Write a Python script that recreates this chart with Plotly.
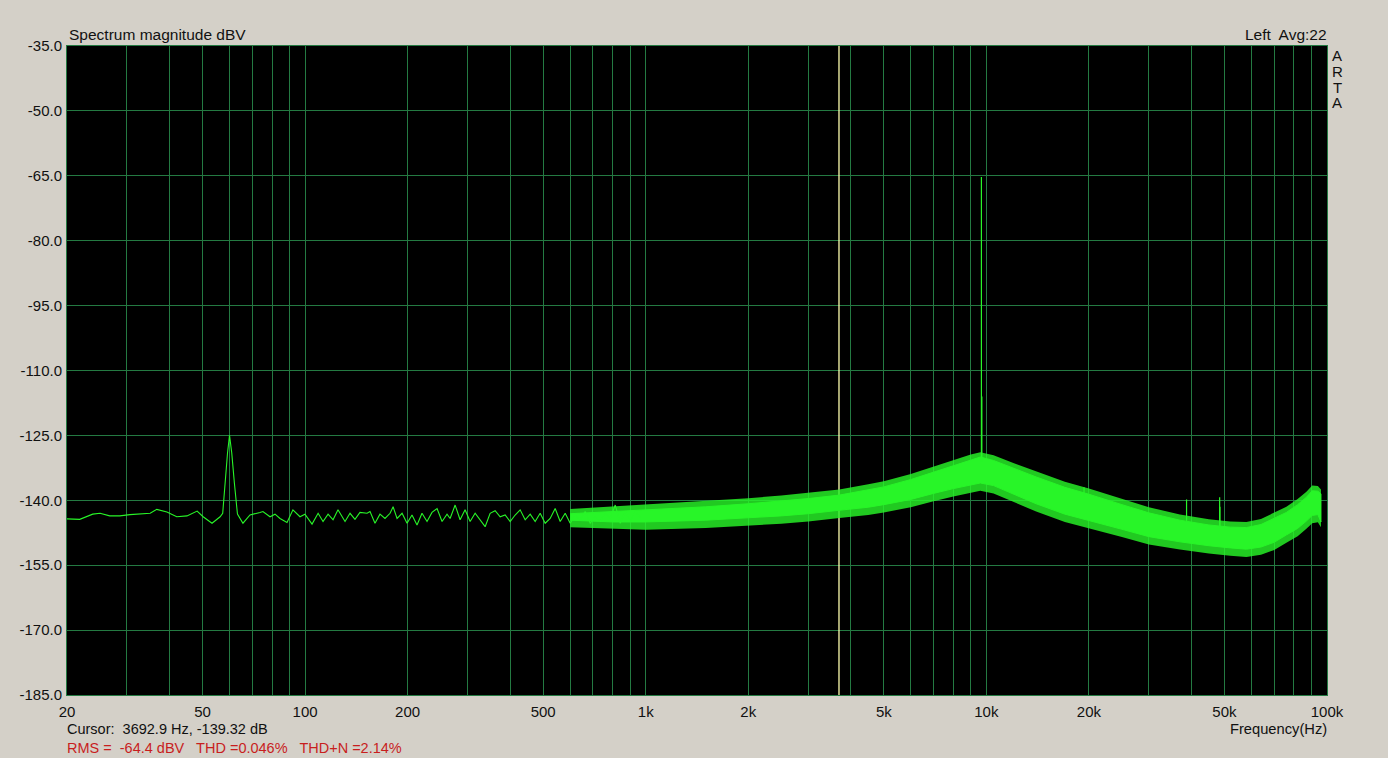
import math
import plotly.graph_objects as go

# ---------------- data ----------------
# Low-frequency single trace (Hz, dBV)
LINE_HZ = [20, 21.8, 23.8, 25, 26.7, 28.6, 30.6, 32.8, 35.1, 36.7, 39.3, 42.0, 45.0, 48.2, 50.2,
           53.3, 56.3, 57.3, 58.2, 59.2, 60.0, 60.9, 62.0, 63.3, 65.7, 68.9, 73.7, 75.2, 78.9,
           81.6, 84.4, 88.5, 92.1, 96.6, 99.9, 104.8, 109.2, 112.9, 116.8, 120.8, 124.9, 131.0,
           135.5, 140.1, 144.9, 152.0, 155.1, 160.4, 165.9, 171.6, 177.6, 181.3, 186.2, 192.6,
           199.2, 206.0, 213.1, 220.4, 228.0, 235.8, 244.0, 252.4, 261.0, 266.5, 275.7, 285.1,
           294.9, 305.1, 315.6, 326.5, 337.7, 349.3, 361.3, 373.8, 386.6, 399.9, 413.7, 427.9,
           442.7, 457.9, 473.6, 489.9, 506.8, 524.2, 542.2, 560.9, 580.2, 600.2, 620.8, 642.2,
           664.3, 687.1, 710.8, 735.2, 760.6, 786.7, 813.8, 841.7, 870.8, 900.6, 931.6, 963.6]
LINE_DB = [-144.3, -144.4, -143.2, -143.0, -143.6, -143.6, -143.3, -143.2, -143.0, -142.1, -142.7,
           -143.8, -143.6, -142.5, -143.8, -145.3, -143.8, -143.0, -136.0, -129.0, -125.0, -129.0,
           -136.0, -143.2, -145.3, -143.4, -142.8, -142.6, -143.8, -143.2, -144.2, -145.1, -142.2,
           -143.8, -143.2, -145.5, -143.0, -144.9, -143.2, -144.5, -142.2, -144.9, -143.0, -144.4,
           -142.8, -143.0, -142.6, -145.3, -143.2, -144.2, -143.0, -141.5, -144.2, -143.0, -145.3,
           -143.4, -145.7, -143.0, -144.9, -142.8, -141.9, -144.9, -143.2, -144.2, -141.1, -144.5,
           -142.2, -144.9, -143.0, -144.5, -146.1, -143.0, -142.4, -143.8, -143.4, -144.9, -143.4,
           -142.2, -144.5, -143.2, -144.9, -143.0, -145.3, -144.2, -141.9, -144.9, -143.0, -145.3,
           -143.4, -144.5, -142.6, -145.3, -143.8, -144.9, -143.0, -144.2, -141.1, -145.3, -142.6,
           -144.9, -142.6, -144.0]

# Dense noise band: solid core and outer extent of the noise spikes (dBV)
BAND_HZ = [600, 800, 1000, 1500, 2000, 2500, 3000, 3700, 4500, 5000, 6000, 7000, 8000, 9000,
           9600, 10500, 12000, 14000, 17000, 20000, 25000, 30000, 37000, 45000, 52000, 58000,
           64000, 70000, 76000, 82000, 87000, 90500, 94000, 96000]
BAND_TOP = [-143.1, -142.6, -142.2, -141.5, -140.8, -140.2, -139.6, -138.8, -137.6, -136.9,
            -135.2, -133.5, -132.0, -130.6, -130.0, -130.8, -132.6, -134.6, -137.0, -138.6,
            -141.0, -142.9, -144.6, -145.7, -146.2, -146.3, -145.6, -144.2, -142.8, -141.0,
            -139.3, -137.8, -137.9, -138.5]
BAND_BOT = [-144.6, -145.0, -145.0, -144.6, -144.1, -143.6, -143.1, -142.3, -141.6, -141.0,
            -139.8, -138.4, -137.3, -136.4, -136.0, -136.6, -138.6, -140.8, -143.2, -144.6,
            -146.7, -148.4, -149.6, -150.5, -151.0, -151.3, -150.8, -149.7, -148.0, -146.5,
            -144.8, -143.5, -143.3, -145.0]
FRINGE_TOP = [-142.0, -141.4, -140.9, -140.2, -139.5, -138.9, -138.3, -137.5, -136.3, -135.6,
              -133.9, -132.2, -130.8, -129.4, -128.9, -129.6, -131.4, -133.3, -135.7, -137.3,
              -139.7, -141.6, -143.3, -144.4, -144.9, -145.0, -144.3, -142.9, -141.5, -139.7,
              -138.0, -136.6, -136.7, -137.5]
FRINGE_BOT = [-146.2, -146.6, -146.8, -146.4, -145.9, -145.4, -144.9, -144.1, -143.4, -142.8,
              -141.6, -140.2, -139.1, -138.2, -137.8, -138.4, -140.4, -142.6, -145.0, -146.4,
              -148.5, -150.2, -151.4, -152.3, -152.8, -153.1, -152.6, -151.5, -149.8, -148.3,
              -146.6, -145.3, -145.1, -146.2]

# Discrete tones (signal + harmonics)
SPIKE_HZ = [9670, 9700, 19350, 38700, 48400, 48500]
SPIKE_TOP = [-65.3, -116.0, -137.0, -139.8, -139.3, -141.5]
SPIKE_BASE = [-131.0, -131.0, -139.0, -145.0, -146.5, -146.5]

CURSOR_HZ = 3692.9
CURSOR_DB = -139.32

X_TICKS = [20, 50, 100, 200, 500, 1000, 2000, 5000, 10000, 20000, 50000, 100000]
X_TICKTEXT = ["20", "50", "100", "200", "500", "1k", "2k", "5k", "10k", "20k", "50k", "100k"]
Y_TICKS = [-35, -50, -65, -80, -95, -110, -125, -140, -155, -170, -185]
Y_TICKTEXT = ["-35.0", "-50.0", "-65.0", "-80.0", "-95.0", "-110.0", "-125.0", "-140.0",
              "-155.0", "-170.0", "-185.0"]

RMS_DBV = -64.4
THD_PCT = 0.046
THDN_PCT = 2.14

# ---------------- styling ----------------
BG = "#D4D0C8"
GRID = "rgb(36,122,66)"
TRACE = "rgb(40,245,40)"
FRINGE = "rgba(40,245,40,0.82)"
FONT = "Liberation Sans, Arial, sans-serif"

W, H = 1388, 758
L, R, T, B = 67, 1327, 46, 695


def px(x):
    return (x - L) / (R - L)


def py(y):
    return (B - y) / (B - T)


grid_hz = [m * 10 ** e for e in range(1, 6) for m in range(1, 10)
           if 20 <= m * 10 ** e <= 100000]

fig = go.Figure()

# cursor
fig.add_trace(go.Scatter(x=[CURSOR_HZ, CURSOR_HZ], y=[Y_TICKS[-1], Y_TICKS[0]], mode="lines",
                         line=dict(color="rgb(255,255,175)", width=1.3), hoverinfo="skip"))

# noise fringe
fig.add_trace(go.Scatter(x=BAND_HZ + BAND_HZ[::-1], y=FRINGE_TOP + FRINGE_BOT[::-1],
                         mode="lines", fill="toself", fillcolor=FRINGE,
                         line=dict(color="rgba(0,0,0,0)", width=0), hoverinfo="skip"))
# band core
fig.add_trace(go.Scatter(x=BAND_HZ + BAND_HZ[::-1], y=BAND_TOP + BAND_BOT[::-1],
                         mode="lines", fill="toself", fillcolor=TRACE,
                         line=dict(color=TRACE, width=1), hoverinfo="skip"))

# low-frequency line
fig.add_trace(go.Scatter(x=LINE_HZ, y=LINE_DB, mode="lines",
                         line=dict(color=TRACE, width=1.1), hoverinfo="skip"))

# spikes
sx, sy = [], []
for f, top, base in zip(SPIKE_HZ, SPIKE_TOP, SPIKE_BASE):
    sx += [f, f, None]
    sy += [base, top, None]
fig.add_trace(go.Scatter(x=sx, y=sy, mode="lines", line=dict(color=TRACE, width=1.2),
                         hoverinfo="skip"))

ann = []


def text(x, y, s, xanchor="left", color="#111111", size=15):
    ann.append(dict(x=px(x), y=py(y), xref="paper", yref="paper", text=s, showarrow=False,
                    xanchor=xanchor, yanchor="middle", borderpad=0,
                    font=dict(family=FONT, size=size, color=color)))


text(68, 34, "Spectrum magnitude dBV", size=15.5)
text(1328, 34, "Left  Avg:22", xanchor="right", size=15.5)
for i, ch in enumerate("ARTA"):
    text(1337, 55 + 16 * i, ch, xanchor="center")
text(1328, 729, "Frequency(Hz)", xanchor="right", size=14.7)
text(66, 729, f"Cursor:  {CURSOR_HZ} Hz, {CURSOR_DB} dB", size=14.5)
text(66, 748, f"RMS =  {RMS_DBV} dBV   THD ={THD_PCT}%   THD+N ={THDN_PCT}%", color="#C81E1E",
     size=14.5)

fig.update_layout(
    width=W, height=H,
    margin=dict(l=L, r=W - R, t=T, b=H - B, pad=0),
    paper_bgcolor=BG, plot_bgcolor="black",
    showlegend=False,
    annotations=ann,
    font=dict(family=FONT, size=15, color="#111111"),
)
fig.update_xaxes(type="log", range=[math.log10(20) - 1e-6, 5 + 1e-6],
                 tickmode="array", tickvals=X_TICKS, ticktext=X_TICKTEXT,
                 showgrid=True, gridcolor=GRID, gridwidth=1,
                 minor=dict(tickmode="array", tickvals=grid_hz, showgrid=True,
                            gridcolor=GRID, gridwidth=1, ticks=""),
                 ticks="outside", ticklen=3, tickcolor=BG,
                 showline=True, linecolor=GRID, linewidth=1, mirror=True,
                 zeroline=False, tickfont=dict(family=FONT, size=15, color="#111111"))
fig.update_yaxes(range=[-185 - 1e-6, -35 + 1e-6],
                 tickmode="array", tickvals=Y_TICKS, ticktext=Y_TICKTEXT,
                 showgrid=True, gridcolor=GRID, gridwidth=1,
                 ticks="outside", ticklen=1, tickcolor=BG,
                 showline=True, linecolor=GRID, linewidth=1, mirror=True,
                 zeroline=False, tickfont=dict(family=FONT, size=15, color="#111111"))

fig.write_html("out.html", config={"displayModeBar": False},
               post_script="document.body.style.margin='0px';")
